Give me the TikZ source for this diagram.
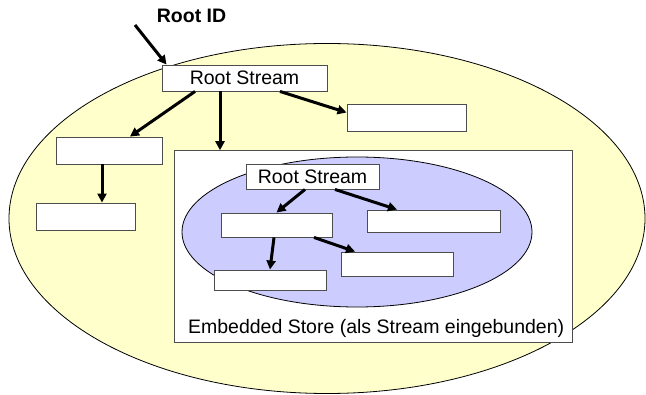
\documentclass[tikz,border=0pt]{standalone}
\usepackage{fontspec}
\setmainfont{Liberation Sans}
\usepackage{tikz}
\usetikzlibrary{positioning, arrows.meta}
\definecolor{storeyellow}{HTML}{FFFFCC}
\definecolor{innerblue}{HTML}{CCCCFF}
\definecolor{boxgray}{HTML}{4D4D4D}
\tikzset{
	streambox/.style={draw=boxgray, line width=0.9pt, fill=white, inner sep=0pt, font=\fontsize{19.5}{22}\selectfont},
	link/.style={-{Triangle[length=9pt, width=9pt]}, line width=3pt},
}

\begin{document}
\begin{tikzpicture}[x=1pt, y=-1pt]
			\useasboundingbox (0,0) rectangle (646,395);
			% outer store
			\draw[fill=storeyellow, line width=0.8pt] (327,218.5) ellipse [x radius=318, y radius=175];
			\node[font=\fontsize{19.5}{22}\selectfont\bfseries] (rootid) at (191.5,16) {Root ID};
			\coordinate (idtail) at (135,25);
			\node[streambox, minimum width=165pt, minimum height=26pt] (root) at (244.5,78) {Root Stream};
			\node[streambox, minimum width=119pt, minimum height=27pt] (right1) at (406.5,117.5) {};
			\node[streambox, minimum width=106pt, minimum height=27pt] (left1) at (109,150.5) {};
			\node[streambox, minimum width=99pt, minimum height=27pt] (left2) at (85.5,216.5) {};
			% embedded store
			\node[streambox, minimum width=397.5pt, minimum height=191.3pt] (store) at (373.25,246.35) {};
			\draw[fill=innerblue, line width=0.8pt] (357,232) ellipse [x radius=175, y radius=75];
			\node[anchor=base west, font=\fontsize{19.5}{22}\selectfont] (storelabel)
			at ([xshift=10.5pt, yshift=9pt]store.south west) {Embedded Store (als Stream eingebunden)};
			\node[streambox, minimum width=133pt, minimum height=25pt] (iroot) at (312.5,176.5) {Root Stream};
			\node[streambox, minimum width=111pt, minimum height=24pt] (ia) at (276.5,225) {};
			\node[streambox, minimum width=133pt, minimum height=22pt] (ib) at (433.5,221) {};
			\node[streambox, minimum width=112pt, minimum height=24pt] (ic) at (397,264) {};
			\node[streambox, minimum width=112pt, minimum height=20pt] (id) at (270,280) {};
			% links
			\draw[link] (idtail) -- ([xshift=5pt]root.north west);
			\draw[link] ([xshift=-49.5pt]root.south) -- ([xshift=21pt]left1.north);
			\draw[link] ([xshift=-24.5pt]root.south) -- ([xshift=-24.5pt]root.south |- store.north);
			\draw[link] ([xshift=35.5pt]root.south) -- ([yshift=5pt]right1.west);
			\draw[link] ([xshift=-7pt]left1.south) -- ([xshift=-7pt]left1.south |- left2.north);
			\draw[link] ([xshift=-7.5pt]iroot.south) -- (ia.north);
			\draw[link] ([xshift=22.5pt]iroot.south) -- ([xshift=-36.5pt]ib.north);
			\draw[link] ([xshift=-2.5pt]ia.south) -- (id.north);
			\draw[link] ([xshift=37.5pt]ia.south) -- ([xshift=-42pt]ic.north);
		\end{tikzpicture}
\end{document}
